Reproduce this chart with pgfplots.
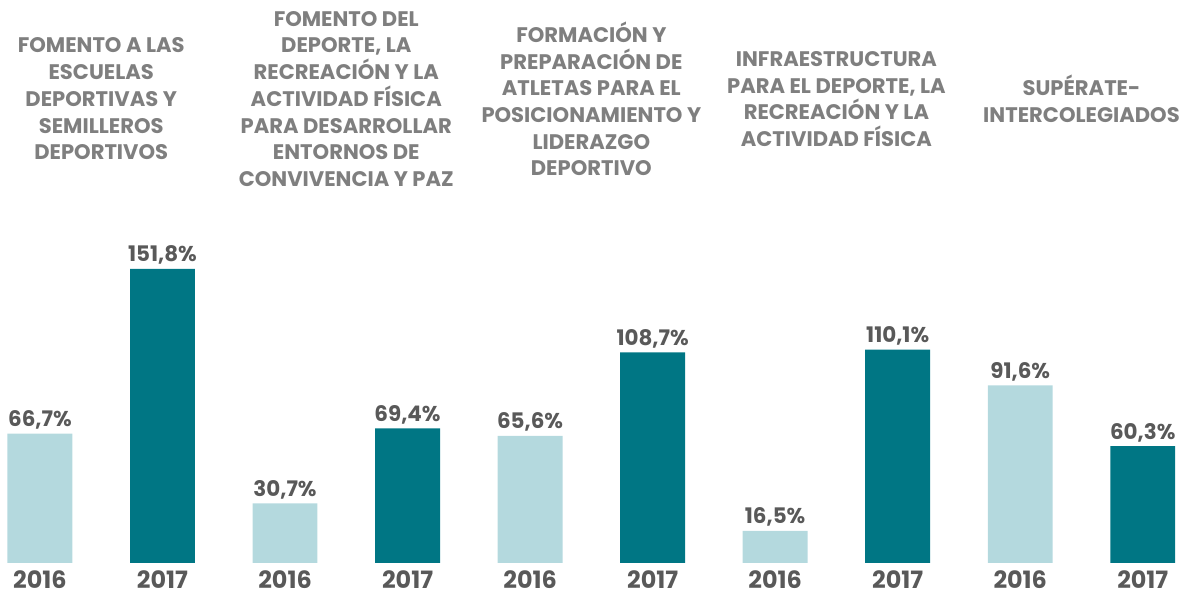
\documentclass[border=0pt]{standalone}
\usepackage{pgfplots}
\pgfplotsset{compat=1.18}
\usepackage{fontspec}
\setmainfont{Poppins}
\definecolor{light}{HTML}{B4D9DE}
\definecolor{dark}{HTML}{007684}
\definecolor{titlegray}{HTML}{7F7F7F}
\definecolor{labelgray}{HTML}{595959}
\begin{document}
\begin{tikzpicture}[x=1cm,y=1cm]
\begin{axis}[
  width=11.93cm, height=5.92cm, scale only axis,
  xmin=-0.326, xmax=9.41, ymin=-15, ymax=290.6,
  hide axis, clip=false,
  ybar, bar width=0.53, bar shift=0pt,
  nodes near coords={\pgfmathprintnumber[fixed,zerofill,precision=1,use comma,assume math mode=true]{\pgfplotspointmeta}\%},
  every node near coord/.append style={font=\bfseries\fontsize{6.1}{7.5}\selectfont, text=labelgray, inner sep=1pt, anchor=south},
]
\path[use as bounding box] (rel axis cs:0,0) rectangle (rel axis cs:1,1);
\addplot[fill=light, draw=none] coordinates {(0,66.7) (2,30.7) (4,65.6) (6,16.5) (8,91.6)};
\addplot[fill=dark, draw=none] coordinates {(1,151.8) (3,69.4) (5,108.7) (7,110.1) (9,60.3)};
\tikzset{yearlabel/.style={font=\bfseries\fontsize{6.8}{8}\selectfont, text=labelgray}}
\node[yearlabel] at (axis cs:0,-8.8) {2016};
\node[yearlabel] at (axis cs:1,-8.8) {2017};
\node[yearlabel] at (axis cs:2,-8.8) {2016};
\node[yearlabel] at (axis cs:3,-8.8) {2017};
\node[yearlabel] at (axis cs:4,-8.8) {2016};
\node[yearlabel] at (axis cs:5,-8.8) {2017};
\node[yearlabel] at (axis cs:6,-8.8) {2016};
\node[yearlabel] at (axis cs:7,-8.8) {2017};
\node[yearlabel] at (axis cs:8,-8.8) {2016};
\node[yearlabel] at (axis cs:9,-8.8) {2017};
\tikzset{grouptitle/.style={font=\bfseries\fontsize{6}{7.6}\selectfont, text=titlegray, align=center, anchor=center}}
\node[grouptitle] at (axis cs:0.5,239.5) {FOMENTO A LAS\\ESCUELAS\\DEPORTIVAS Y\\SEMILLEROS\\DEPORTIVOS};
\node[grouptitle] at (axis cs:2.5,239.5) {FOMENTO DEL\\DEPORTE, LA\\RECREACIÓN Y LA\\ACTIVIDAD FÍSICA\\PARA DESARROLLAR\\ENTORNOS DE\\CONVIVENCIA Y PAZ};
\node[grouptitle] at (axis cs:4.5,239.5) {FORMACIÓN Y\\PREPARACIÓN DE\\ATLETAS PARA EL\\POSICIONAMIENTO Y\\LIDERAZGO\\DEPORTIVO};
\node[grouptitle] at (axis cs:6.5,239.5) {INFRAESTRUCTURA\\PARA EL DEPORTE, LA\\RECREACIÓN Y LA\\ACTIVIDAD FÍSICA};
\node[grouptitle] at (axis cs:8.5,239.5) {SUPÉRATE-\\INTERCOLEGIADOS};
\end{axis}
\end{tikzpicture}
\end{document}
